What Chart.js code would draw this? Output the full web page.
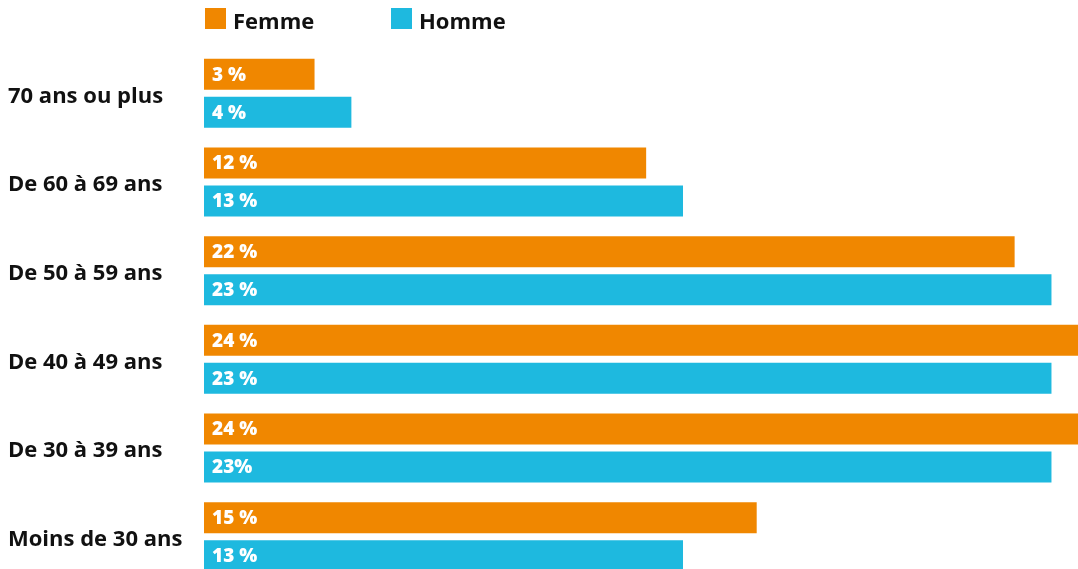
<!DOCTYPE html>
<html>
<head>
<meta charset="utf-8">
<script src="https://cdn.jsdelivr.net/npm/chart.js@4"></script>
<style>
  html, body { margin: 0; padding: 0; background: #fff; overflow: hidden; }
</style>
</head>
<body>
<canvas id="graphAge" width="1078" height="581"></canvas>
<script>
const categories = ['70 ans ou plus', 'De 60 à 69 ans', 'De 50 à 59 ans', 'De 40 à 49 ans', 'De 30 à 39 ans', 'Moins de 30 ans'];
const femme = [3, 12, 22, 24, 24, 15];
const homme = [4, 13, 23, 23, 23, 13];
const femmeText = ['3 %', '12 %', '22 %', '24 %', '24 %', '15 %'];
const hommeText = ['4 %', '13 %', '23 %', '23 %', '23%', '13 %'];

const ORANGE = '#F08700';
const CYAN = '#1EB9DF';
const FONT = '"Open Sans", sans-serif';

// valeurs écrites en blanc au début de chaque barre
const barText = {
    id: 'barText',
    afterDatasetsDraw(chart) {
        const c = chart.ctx;
        c.save();
        c.fillStyle = '#fff';
        c.font = '800 19px ' + FONT;
        c.textBaseline = 'middle';
        c.textAlign = 'left';
        chart.data.datasets.forEach((ds, i) => {
            chart.getDatasetMeta(i).data.forEach((bar, j) => {
                c.fillText(ds.texts[j], bar.base + 8, bar.y + 1);
            });
        });
        c.restore();
    }
};

// légende dessinée à la main (carré + libellé)
const legende = {
    id: 'legende',
    afterDraw(chart) {
        const c = chart.ctx;
        const xs = [205, 391];
        c.save();
        c.font = 'bold 22px ' + FONT;
        c.textBaseline = 'alphabetic';
        chart.data.datasets.forEach((ds, i) => {
            c.fillStyle = ds.backgroundColor;
            c.fillRect(xs[i], 8, 21, 21);
            c.fillStyle = '#111';
            c.fillText(ds.label, xs[i] + 28, 29);
        });
        c.restore();
    }
};

new Chart(document.getElementById('graphAge'), {
    type: 'bar',
    data: {
        labels: categories,
        datasets: [
            { label: 'Femme', data: femme, texts: femmeText, backgroundColor: ORANGE },
            { label: 'Homme', data: homme, texts: hommeText, backgroundColor: CYAN }
        ]
    },
    options: {
        indexAxis: 'y',
        responsive: false,
        animation: false,
        categoryPercentage: 0.857,
        barPercentage: 0.816,
        layout: { padding: { top: 49, left: 8, right: 0, bottom: 0 } },
        plugins: {
            legend: { display: false },
            tooltip: { enabled: false }
        },
        scales: {
            x: {
                display: false,
                min: 0,
                max: 23.72
            },
            y: {
                grid: { display: false, drawTicks: false },
                border: { display: false },
                ticks: {
                    crossAlign: 'far',
                    labelOffset: 3,
                    color: '#111',
                    font: { family: FONT, size: 22, weight: 'bold' }
                },
                afterFit(scale) {
                    scale.width = 196;
                    scale.paddingTop = 0;
                    scale.paddingBottom = 0;
                }
            }
        }
    },
    plugins: [barText, legende]
});
</script>
</body>
</html>
